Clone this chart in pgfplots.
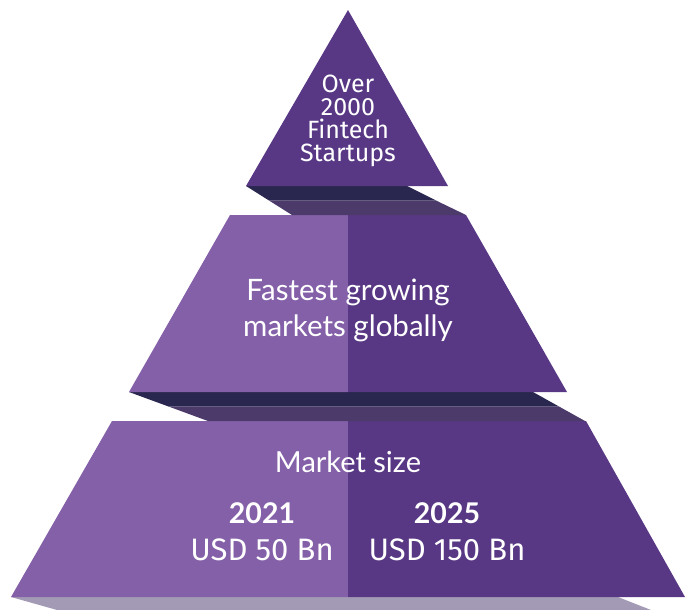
\documentclass[border=0pt]{standalone}
\usepackage{pgfplots}
\pgfplotsset{compat=1.18}
\usepackage{fontspec}
\setmainfont{Lato}
\newfontfamily\plex{Fira Sans}
\definecolor{lightP}{HTML}{8460A8}
\definecolor{darkP}{HTML}{583884}
\definecolor{shadD}{HTML}{29264F}
\definecolor{shadL}{HTML}{4B3A6A}
\definecolor{grayS}{HTML}{A39BB6}
\begin{document}
\begin{tikzpicture}
\begin{axis}[
  width=693pt, height=610pt, scale only axis,
  xmin=0, xmax=693, ymin=0, ymax=610, y dir=reverse,
  hide axis, clip=false, enlargelimits=false]
% invisible frame keeps the picture's full size
\addplot[draw=none, forget plot] coordinates {(0,0) (693,0) (693,610) (0,610)} --cycle;
% bottom shadow
\addplot[fill=grayS, draw=none] coordinates {(11,597) (618,597) (651,610) (57,610)} --cycle;
% bottom tier
\addplot[fill=lightP, draw=none] coordinates {(112,421) (348,421) (348,597) (11,597)} --cycle;
\addplot[fill=darkP, draw=none] coordinates {(348,421) (586,421) (685,597) (348,597)} --cycle;
% middle shadow
\addplot[fill=shadD, draw=none] coordinates {(129,392) (533,392) (559,406.5) (168.5,406.5)} --cycle;
\addplot[fill=shadL, draw=none] coordinates {(168.5,406.5) (559,406.5) (585,421) (208,421)} --cycle;
% middle tier
\addplot[fill=lightP, draw=none] coordinates {(230,215) (348,215) (348,392) (129,392)} --cycle;
\addplot[fill=darkP, draw=none] coordinates {(348,215) (466,215) (567,392) (348,392)} --cycle;
% top shadow
\addplot[fill=shadD, draw=none] coordinates {(246,186) (407,186) (436,200.5) (269,200.5)} --cycle;
\addplot[fill=shadL, draw=none] coordinates {(269,200.5) (436,200.5) (466,215) (292,215)} --cycle;
% top triangle
\addplot[fill=darkP, draw=none] coordinates {(348,10) (448,186) (246,186)} --cycle;
% texts
\node[white, align=center, font=\plex\fontsize{25}{23}\selectfont] at (axis cs:348,121) {Over\\2000\\Fintech\\Startups};
\node[white, align=center, font=\fontsize{29.5}{36}\selectfont] at (axis cs:348,310) {Fastest growing\\markets globally};
\node[white, font=\fontsize{29}{30}\selectfont] at (axis cs:348,462) {Market size};
\node[white, font=\bfseries\fontsize{28.5}{30}\selectfont] at (axis cs:262,513) {2021};
\node[white, font=\bfseries\fontsize{28.5}{30}\selectfont] at (axis cs:447,513) {2025};
\node[white, font=\plex\fontsize{31}{30}\selectfont] at (axis cs:262,550) {USD 50 Bn};
\node[white, font=\plex\fontsize{31}{30}\selectfont] at (axis cs:447,550) {USD 150 Bn};
\end{axis}
\end{tikzpicture}
\end{document}
